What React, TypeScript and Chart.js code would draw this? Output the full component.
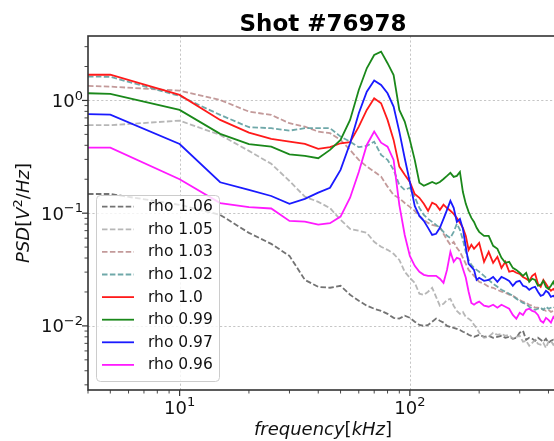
import React, { useEffect, useRef } from 'react';
import { Chart, registerables } from 'chart.js';

Chart.register(...registerables);

// ---------------- data ----------------
const FREQ_KHZ = [
  4, 5, 10, 15, 20, 25, 30, 35, 40, 45, 50, 55, 60, 65, 70, 75, 80, 85, 90, 95, 100,
  105, 110, 115, 120, 125, 130, 135, 140, 145, 150, 155, 160, 165, 170, 175, 180, 185, 190, 195, 200,
  210, 220, 230, 240, 250, 260, 270, 280, 290, 300, 310, 320, 330, 340, 350, 360, 370, 380, 390, 400,
  410, 420, 430, 440,
];

const RHO_106 = [
  0.148, 0.148, 0.1185, 0.0966, 0.0669, 0.0534, 0.0418, 0.0256, 0.0222, 0.0218, 0.0227, 0.0189, 0.0167, 0.0151, 0.0142, 0.0136, 0.0128, 0.0118, 0.0116, 0.0123, 0.0118,
  0.0109, 0.0102, 0.01, 0.0102, 0.0109, 0.0116, 0.0111, 0.0107, 0.01, 0.0098, 0.0096, 0.0094, 0.0092, 0.00887, 0.00869, 0.00834, 0.00817, 0.008, 0.00817, 0.00834,
  0.008, 0.00817, 0.00784, 0.008, 0.00817, 0.00784, 0.008, 0.00768, 0.00784, 0.00869, 0.00905, 0.00753, 0.00784, 0.00768, 0.00738, 0.00784, 0.00753, 0.00723, 0.00768, 0.00708,
  0.00738, 0.00753, 0.00723, 0.00738,
];

const RHO_105 = [
  0.603, 0.603, 0.662, 0.494, 0.357, 0.274, 0.193, 0.14, 0.126, 0.111, 0.0872, 0.0726, 0.0698, 0.0669, 0.0557, 0.0503, 0.0473, 0.0436, 0.0385, 0.0302, 0.0267,
  0.0241, 0.0193, 0.0189, 0.0201, 0.0218, 0.0181, 0.0151, 0.0157, 0.017, 0.0174, 0.0151, 0.0136, 0.0128, 0.0133, 0.012, 0.0116, 0.0111, 0.0102, 0.0096, 0.00869,
  0.00784, 0.008, 0.00869, 0.00834, 0.00851, 0.00817, 0.00834, 0.00768, 0.008, 0.00817, 0.00723, 0.00738, 0.00666, 0.00708, 0.00753, 0.00694, 0.0068, 0.00708, 0.00639, 0.00723,
  0.00738, 0.0068, 0.00708, 0.00694,
];

const RHO_103 = [
  1.345, 1.326, 1.221, 1.01, 0.796, 0.744, 0.628, 0.586, 0.529, 0.512, 0.447, 0.364, 0.297, 0.259, 0.234, 0.211, 0.172, 0.145, 0.136, 0.123, 0.1137,
  0.1048, 0.0946, 0.0872, 0.082, 0.0787, 0.0772, 0.0756, 0.0656, 0.058, 0.0524, 0.0557, 0.0493, 0.0454, 0.0402, 0.0355, 0.0314, 0.0296, 0.0278, 0.0262, 0.0246,
  0.0236, 0.0222, 0.0218, 0.0209, 0.0201, 0.0197, 0.0189, 0.0185, 0.0177, 0.017, 0.0164, 0.016, 0.0154, 0.0151, 0.0145, 0.0145, 0.0142, 0.0139, 0.0136, 0.0139,
  0.0133, 0.0136, 0.0131, 0.0133,
];

const RHO_102 = [
  1.63, 1.62, 1.096, 0.744, 0.579, 0.567, 0.54, 0.567, 0.567, 0.567, 0.478, 0.431, 0.385, 0.395, 0.431, 0.329, 0.297, 0.242, 0.178, 0.161, 0.168,
  0.139, 0.1114, 0.0966, 0.089, 0.0837, 0.0787, 0.0741, 0.0683, 0.0629, 0.0604, 0.0683, 0.0804, 0.0711, 0.058, 0.0454, 0.0385, 0.0348, 0.0327, 0.0314, 0.0302,
  0.0278, 0.0256, 0.0236, 0.0222, 0.0209, 0.0201, 0.0193, 0.0185, 0.0174, 0.0167, 0.016, 0.0157, 0.0148, 0.0142, 0.0139, 0.0142, 0.0145, 0.0139, 0.0148, 0.0142,
  0.0145, 0.0148, 0.0142, 0.0145,
];

const RHO_100 = [
  1.69, 1.69, 1.12, 0.672, 0.518, 0.456, 0.431, 0.411, 0.372, 0.385, 0.417, 0.426, 0.586, 0.824, 1.046, 0.944, 0.672, 0.447, 0.259, 0.219, 0.189,
  0.148, 0.137, 0.121, 0.105, 0.124, 0.119, 0.107, 0.119, 0.111, 0.105, 0.0986, 0.0908, 0.082, 0.0741, 0.0629, 0.0473, 0.0524, 0.0483, 0.0513, 0.0545,
  0.037, 0.0454, 0.0363, 0.041, 0.0327, 0.037, 0.0302, 0.0308, 0.0296, 0.029, 0.0272, 0.0262, 0.0251, 0.0278, 0.029, 0.0236, 0.0222, 0.0256, 0.0236, 0.0218,
  0.0205, 0.0213, 0.0201, 0.0209,
];

const RHO_099 = [
  1.158, 1.142, 0.824, 0.505, 0.409, 0.389, 0.333, 0.322, 0.307, 0.364, 0.447, 0.672, 1.239, 1.93, 2.53, 2.71, 2.14, 1.68, 0.824, 0.649, 0.447,
  0.297, 0.186, 0.175, 0.182, 0.189, 0.182, 0.189, 0.201, 0.214, 0.228, 0.21, 0.214, 0.232, 0.154, 0.121, 0.1027, 0.0908, 0.0837, 0.0741, 0.0683,
  0.0629, 0.0629, 0.0513, 0.0483, 0.0402, 0.0363, 0.037, 0.0327, 0.0314, 0.0296, 0.0278, 0.0296, 0.0246, 0.0262, 0.0256, 0.0227, 0.0231, 0.0251, 0.0222, 0.0213,
  0.0227, 0.0246, 0.0218, 0.0231,
];

const RHO_097 = [
  0.755, 0.748, 0.411, 0.188, 0.161, 0.142, 0.121, 0.134, 0.152, 0.168, 0.242, 0.417, 0.77, 1.197, 1.5, 1.37, 1.158, 0.881, 0.529, 0.307, 0.189,
  0.116, 0.0946, 0.0854, 0.0741, 0.0642, 0.0656, 0.0741, 0.089, 0.107, 0.1285, 0.1114, 0.0837, 0.089, 0.0726, 0.0503, 0.0355, 0.0334, 0.0314, 0.0256, 0.0267,
  0.0251, 0.0256, 0.0272, 0.0246, 0.0272, 0.0262, 0.0251, 0.0227, 0.0246, 0.0251, 0.0227, 0.0222, 0.0209, 0.0218, 0.0222, 0.0201, 0.0185, 0.0189, 0.0205, 0.0197,
  0.0181, 0.0185, 0.0177, 0.0185,
];

const RHO_096 = [
  0.382, 0.382, 0.2, 0.123, 0.113, 0.11, 0.0854, 0.0842, 0.0793, 0.0815, 0.0933, 0.137, 0.232, 0.403, 0.529, 0.422, 0.389, 0.297, 0.1185, 0.064, 0.0418,
  0.0341, 0.0302, 0.0284, 0.0278, 0.0278, 0.0278, 0.0262, 0.0241, 0.0314, 0.0454, 0.037, 0.0402, 0.0393, 0.0321, 0.0267, 0.0201, 0.016, 0.0154, 0.016, 0.0164,
  0.0151, 0.0148, 0.0154, 0.0145, 0.0154, 0.0148, 0.0142, 0.0125, 0.0116, 0.0131, 0.0125, 0.0139, 0.0142, 0.0136, 0.0133, 0.0125, 0.0111, 0.0107, 0.0118, 0.0113,
  0.0107, 0.012, 0.0113, 0.0118,
];

const SERIES_LABELS = ['rho 1.06', 'rho 1.05', 'rho 1.03', 'rho 1.02', 'rho 1.0', 'rho 0.99', 'rho 0.97', 'rho 0.96'];
const SERIES_VALUES = [RHO_106, RHO_105, RHO_103, RHO_102, RHO_100, RHO_099, RHO_097, RHO_096];

const X_MAJOR = [10, 100];
const X_MAJOR_EXP = ['1', '2'];
const Y_MAJOR = [1, 0.1, 0.01];
const Y_MAJOR_EXP = ['0', '\u22121', '\u22122'];
const X_MIN = 4;
const X_MAX = 440;
const Y_MIN = 0.0027;
const Y_MAX = 3.73;

const TITLE = 'Shot #76978';

// ---------------- styles ----------------
const DASH = [5.5, 2.4];
const STYLES = [
  { color: 'rgba(90,90,90,0.85)', dash: DASH },
  { color: 'rgba(170,170,170,0.85)', dash: DASH },
  { color: 'rgba(188,143,143,0.9)', dash: DASH },
  { color: 'rgba(95,158,160,0.9)', dash: DASH },
  { color: '#ff1a1a', dash: [] as number[] },
  { color: '#1a881a', dash: [] as number[] },
  { color: '#1a1aff', dash: [] as number[] },
  { color: '#ff1aff', dash: [] as number[] },
];

const FF = '"DejaVu Sans", sans-serif';
const TXT = '#111';

type Part = { t: string; font: string; dy?: number };

function drawParts(ctx: CanvasRenderingContext2D, parts: Part[], x: number, y: number, align: 'left' | 'center' | 'right') {
  let total = 0;
  const widths = parts.map((p) => {
    ctx.font = p.font;
    const w = ctx.measureText(p.t).width;
    total += w;
    return w;
  });
  let cx = align === 'left' ? x : align === 'center' ? x - total / 2 : x - total;
  ctx.textAlign = 'left';
  ctx.textBaseline = 'alphabetic';
  parts.forEach((p, i) => {
    ctx.font = p.font;
    ctx.fillText(p.t, cx, y + (p.dy || 0));
    cx += widths[i];
  });
}

const overlayPlugin = {
  id: 'overlay',
  beforeDatasetsDraw(chart: any) {
    const { ctx, chartArea: a, scales } = chart;
    ctx.save();
    ctx.strokeStyle = '#b8b8b8';
    ctx.lineWidth = 0.8;
    ctx.setLineDash([2.2, 2.2]);
    for (const v of X_MAJOR) {
      const px = Math.round(scales.x.getPixelForValue(v)) + 0.5;
      ctx.beginPath();
      ctx.moveTo(px, a.top);
      ctx.lineTo(px, a.bottom);
      ctx.stroke();
    }
    for (const v of Y_MAJOR) {
      const py = Math.round(scales.y.getPixelForValue(v)) + 0.5;
      ctx.beginPath();
      ctx.moveTo(a.left, py);
      ctx.lineTo(a.right, py);
      ctx.stroke();
    }
    ctx.restore();
  },
  afterDatasetsDraw(chart: any) {
    const { ctx, chartArea: a, scales } = chart;
    const xs = scales.x;
    const ys = scales.y;
    ctx.save();
    ctx.setLineDash([]);

    // frame
    ctx.strokeStyle = '#333';
    ctx.lineWidth = 1.6;
    ctx.strokeRect(a.left, a.top, a.right - a.left, a.bottom - a.top);

    // ticks
    ctx.strokeStyle = '#333';
    const decades = [0.001, 0.01, 0.1, 1, 10, 100];
    for (const d of decades) {
      for (let m = 1; m <= 9; m++) {
        const v = m * d;
        const major = m === 1;
        const len = major ? 6 : 3.5;
        ctx.lineWidth = major ? 1.2 : 0.9;
        if (v >= X_MIN && v <= X_MAX) {
          const px = xs.getPixelForValue(v);
          ctx.beginPath();
          ctx.moveTo(px, a.bottom);
          ctx.lineTo(px, a.bottom + len);
          ctx.stroke();
        }
        if (v >= Y_MIN && v <= Y_MAX) {
          const py = ys.getPixelForValue(v);
          ctx.beginPath();
          ctx.moveTo(a.left, py);
          ctx.lineTo(a.left - len, py);
          ctx.stroke();
        }
      }
    }

    // tick labels
    ctx.fillStyle = TXT;
    const base = `18px ${FF}`;
    const sup = `13px ${FF}`;
    X_MAJOR.forEach((v, i) => {
      const px = xs.getPixelForValue(v);
      drawParts(ctx, [{ t: '10', font: base }, { t: X_MAJOR_EXP[i], font: sup, dy: -7.5 }], px, a.bottom + 23.5, 'center');
    });
    Y_MAJOR.forEach((v, i) => {
      const py = ys.getPixelForValue(v);
      drawParts(ctx, [{ t: '10', font: base }, { t: Y_MAJOR_EXP[i], font: sup, dy: -7.5 }], a.left - 5, py + 6.6, 'right');
    });

    // axis labels
    const it = `italic 18px ${FF}`;
    const up = `18px ${FF}`;
    drawParts(
      ctx,
      [
        { t: 'frequency', font: it },
        { t: '[', font: up },
        { t: 'kHz', font: it },
        { t: ']', font: up },
      ],
      (a.left + a.right) / 2,
      435,
      'center'
    );
    ctx.save();
    ctx.translate(29, (a.top + a.bottom) / 2);
    ctx.rotate(-Math.PI / 2);
    drawParts(
      ctx,
      [
        { t: 'PSD', font: it },
        { t: '[', font: up },
        { t: 'V', font: it },
        { t: '2', font: `13px ${FF}`, dy: -7.5 },
        { t: '/', font: up },
        { t: 'Hz', font: it },
        { t: ']', font: up },
      ],
      0,
      0,
      'center'
    );
    ctx.restore();

    // title
    ctx.font = `bold 23px ${FF}`;
    ctx.textAlign = 'center';
    ctx.textBaseline = 'alphabetic';
    ctx.fillStyle = '#000';
    ctx.fillText(TITLE, (a.left + a.right) / 2, 31);

    // legend
    const lx = 96.5;
    const ly = 195.5;
    const lw = 123;
    const lh = 186;
    ctx.beginPath();
    (ctx as any).roundRect(lx, ly, lw, lh, 4);
    ctx.fillStyle = 'rgba(255,255,255,0.8)';
    ctx.fill();
    ctx.strokeStyle = '#cccccc';
    ctx.lineWidth = 1;
    ctx.stroke();
    SERIES_LABELS.forEach((label, i) => {
      const yy = 206.7 + i * 22.6;
      const st = STYLES[i];
      ctx.strokeStyle = st.color;
      ctx.lineWidth = 1.8;
      ctx.setLineDash(st.dash);
      ctx.beginPath();
      ctx.moveTo(102, yy);
      ctx.lineTo(134, yy);
      ctx.stroke();
      ctx.setLineDash([]);
      ctx.fillStyle = TXT;
      ctx.font = `15.5px ${FF}`;
      ctx.textAlign = 'left';
      ctx.textBaseline = 'middle';
      ctx.fillText(label, 148, yy + 0.5);
    });

    ctx.restore();
  },
};

export default function App() {
  const ref = useRef<HTMLCanvasElement | null>(null);

  useEffect(() => {
    if (!ref.current) return;
    const datasets = SERIES_LABELS.map((label, i) => ({
      label,
      data: FREQ_KHZ.map((f, j) => ({ x: f, y: SERIES_VALUES[i][j] })),
      borderColor: STYLES[i].color,
      borderDash: STYLES[i].dash,
      borderWidth: 1.8,
      pointRadius: 0,
      fill: false,
      tension: 0,
      order: SERIES_LABELS.length - 1 - i,
    }));
    const chart = new Chart(ref.current, {
      type: 'line',
      data: { datasets },
      options: {
        responsive: false,
        animation: false,
        devicePixelRatio: 1,
        layout: { padding: { left: 88, top: 36, right: 42, bottom: 51 } },
        plugins: {
          legend: { display: false },
          tooltip: { enabled: false },
          title: { display: false },
        },
        scales: {
          x: { type: 'logarithmic', min: X_MIN, max: X_MAX, display: false, bounds: 'data' },
          y: { type: 'logarithmic', min: Y_MIN, max: Y_MAX, display: false, bounds: 'data' },
        },
      } as any,
      plugins: [overlayPlugin],
    });
    return () => chart.destroy();
  }, []);

  return (
    <div
      style={{
        position: 'fixed',
        left: 0,
        top: 0,
        width: 554,
        height: 441,
        overflow: 'hidden',
        background: '#fff',
      }}
    >
      <canvas ref={ref} width={600} height={441} style={{ display: 'block', width: 600, height: 441 }} />
    </div>
  );
}
